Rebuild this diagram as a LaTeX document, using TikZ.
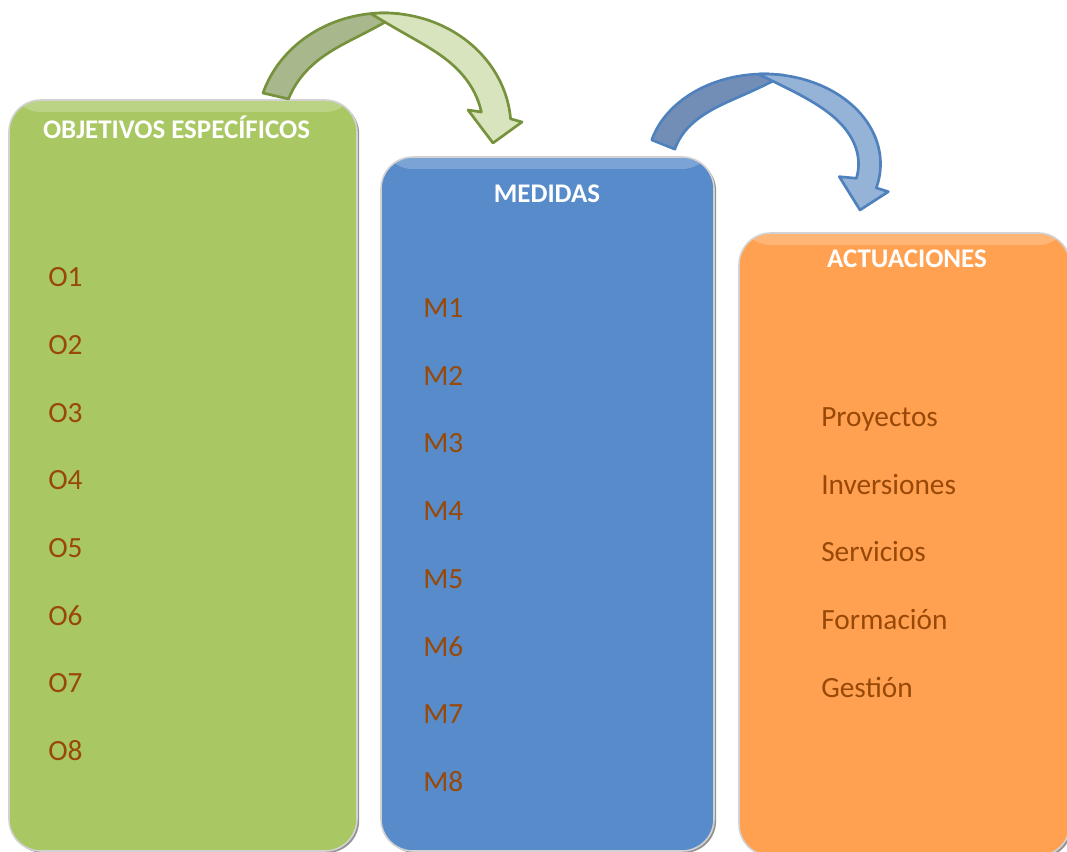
\documentclass[tikz,border=0pt]{standalone}
\usepackage{fontspec}
\setmainfont{Carlito}
\usetikzlibrary{shadows}
\definecolor{grnbox}{RGB}{169,199,98}
\definecolor{blubox}{RGB}{87,139,201}
\definecolor{orgbox}{RGB}{255,161,80}
\definecolor{txtbrown}{RGB}{152,72,7}
\definecolor{gadark}{RGB}{168,184,140}
\definecolor{galight}{RGB}{215,228,189}
\definecolor{galine}{RGB}{118,146,60}
\definecolor{badark}{RGB}{115,142,182}
\definecolor{balight}{RGB}{149,179,215}
\definecolor{baline}{RGB}{79,129,189}
\tikzset{
  colbox/.style={draw=gray!35, line width=1.2pt, rounded corners=24pt, inner sep=0pt,
    drop shadow={shadow xshift=1.6pt, shadow yshift=-1.4pt, fill=gray!85, opacity=1},
    path picture={\fill[white,opacity=.22] (path picture bounding box.north west) rectangle ([yshift=-9pt]path picture bounding box.north east);}},
  head/.style={text=white, font=\bfseries\fontsize{20.2}{24}\selectfont, inner sep=0pt, anchor=base},
  item/.style={text=txtbrown, font=\fontsize{22}{26}\selectfont, inner sep=0pt, anchor=base west},
  barrow/.style={line width=2pt, line join=round},
  pl/.style={domain=0:1, samples=60, variable=\t}
}
\begin{document}
\begin{tikzpicture}[x=0.75pt,y=-0.75pt]
\useasboundingbox (0,0) rectangle (1067,852);
\clip (0,0) rectangle (1067,852);
% boxes
\node[colbox, fill=grnbox, minimum width=261pt, minimum height=563.25pt] (gbox) at (183,475.5) {};
\node[colbox, fill=blubox, minimum width=249.75pt, minimum height=520.5pt] (bbox) at (547.5,504) {};
\node[colbox, fill=orgbox, minimum width=248.25pt, minimum height=467.25pt] (obox) at (904.5,544.5) {};
% green curved arrow: back (dark) part
\filldraw[barrow, draw=galine, fill=gadark]
  plot[pl] ({384+127*cos(162.3-79.3*\t)},{128-115*sin(162.3-79.3*\t)})
  -- plot[pl] ({384+(127-26*(1-(1-\t)^5))*cos(83+78*\t)},{128-(115-26*(1-(1-\t)^5))*sin(83+78*\t)})
  -- cycle;
% green curved arrow: front (light) part with head
\filldraw[barrow, draw=galine, fill=galight]
  plot[pl] ({384+127*cos(96-91.5*\t)},{128-115*sin(96-91.5*\t)})
  -- (522,122) -- (493,143) -- (468,110)
  -- plot[pl] ({384+(127-28*(1-(\t)^5))*cos(10.6+85.4*\t)},{128-(115-28*(1-(\t)^5))*sin(10.6+85.4*\t)})
  -- cycle;
% blue curved arrow: back (dark) part
\filldraw[barrow, draw=baline, fill=badark]
  plot[pl] ({764+116.5*cos(164.5-84.5*\t)},{164-90*sin(164.5-84.5*\t)})
  -- plot[pl] ({764+(116.5-25*(1-(1-\t)^5))*cos(80+86.9*\t)},{164-(90-25*(1-(1-\t)^5))*sin(80+86.9*\t)})
  -- cycle;
% blue curved arrow: front (light) part with head
\filldraw[barrow, draw=baline, fill=balight]
  plot[pl] ({764+116.5*cos(93-108.5*\t)},{164-90*sin(93-108.5*\t)})
  -- (888.3,191.7) -- (860,210) -- (839.3,176.7)
  -- plot[pl] ({764+(116.5-22*(1-(\t)^5))*cos(-12.1+105.1*\t)},{164-(90-22*(1-(\t)^5))*sin(-12.1+105.1*\t)})
  -- cycle;
% headers
\node[head] (gh) at (176.5,138.5) {OBJETIVOS ESPECÍFICOS};
\node[head] (bh) at (547,202.5) {MEDIDAS};
\node[head] (oh) at (907,267.5) {ACTUACIONES};
% O items
\node[item] (o1) at (48,286.7) {O1};
\node[item] (o2) at (48,354.4) {O2};
\node[item] (o3) at (48,422.1) {O3};
\node[item] (o4) at (48,489.8) {O4};
\node[item] (o5) at (48,557.5) {O5};
\node[item] (o6) at (48,625.2) {O6};
\node[item] (o7) at (48,692.9) {O7};
\node[item] (o8) at (48,760.6) {O8};
% M items
\node[item] (m1) at (423,317.5) {M1};
\node[item] (m2) at (423,385.2) {M2};
\node[item] (m3) at (423,452.9) {M3};
\node[item] (m4) at (423,520.6) {M4};
\node[item] (m5) at (423,588.3) {M5};
\node[item] (m6) at (423,656.0) {M6};
\node[item] (m7) at (423,723.7) {M7};
\node[item] (m8) at (423,791.4) {M8};
% actuaciones
\node[item] (a1) at (821,426.7) {Proyectos};
\node[item] (a2) at (821,494.3) {Inversiones};
\node[item] (a3) at (821,561.9) {Servicios};
\node[item] (a4) at (821,629.5) {Formación};
\node[item] (a5) at (821,697.1) {Gestión};
\end{tikzpicture}
\end{document}
